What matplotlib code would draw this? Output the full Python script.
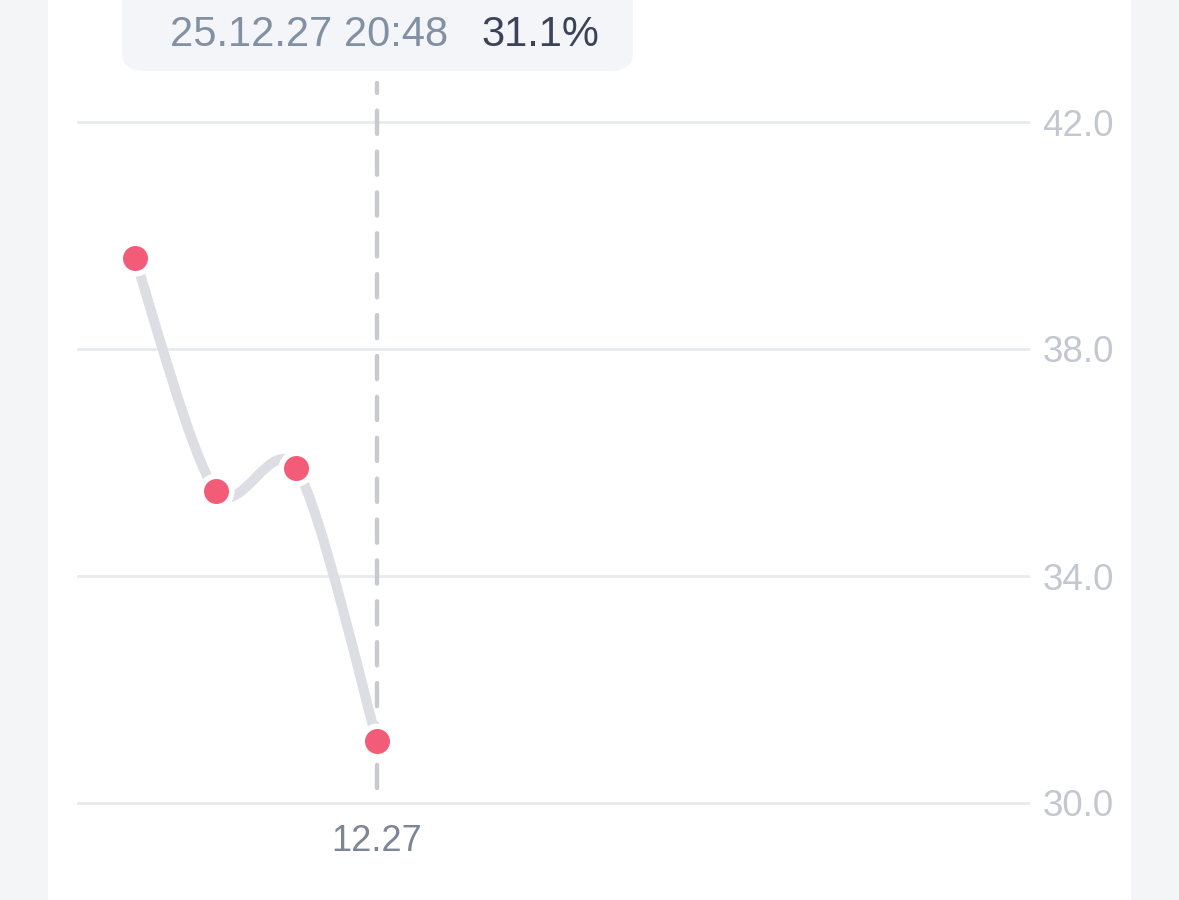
"""Single-series line with a selected-point tooltip."""

import matplotlib.pyplot as plt
from matplotlib.patches import FancyBboxPatch, PathPatch
from matplotlib.path import Path

values = [39.6, 35.5, 35.9, 31.1]
x_labels = ["", "", "", "12.27"]
y_ticks = [30.0, 34.0, 38.0, 42.0]
selected = 3
tooltip_date = "25.12.27 20:48"
tooltip_value = "31.1%"

W, H = 1179, 900
plt.rcParams["font.family"] = ["Liberation Sans", "DejaVu Sans"]

fig = plt.figure(figsize=(W / 100, H / 100), dpi=100)
fig.patch.set_facecolor("#f4f5f7")

# white card
card = FancyBboxPatch(
    (48 / W, -0.1), (1131 - 48) / W, 1.2,
    boxstyle="round,pad=0,rounding_size=0.03",
    transform=fig.transFigure, fc="white", ec="none", zorder=-10,
)
fig.patches.append(card)

ax = fig.add_axes([78 / W, 1 - 803 / H, (1028 - 78) / W, (803 - 122) / H])
ax.set_zorder(1)
ax.set_facecolor("none")
xs = list(range(len(values)))
step = 80.67
ax.set_xlim(-57 / step, (1028 - 135) / step)
ax.set_ylim(y_ticks[0], y_ticks[-1])

for s in ax.spines.values():
    s.set_visible(False)
ax.yaxis.tick_right()
ax.set_yticks(y_ticks)
ax.set_yticklabels([f"{t:.1f}" for t in y_ticks])
ax.tick_params(axis="y", length=0, pad=10.5, labelsize=26.5, labelcolor="#c3c7cf")
ax.set_xticks(xs)
ax.set_xticklabels(x_labels)
ax.tick_params(axis="x", length=0, pad=15, labelsize=26, labelcolor="#7b8697")
ax.grid(axis="y", color="#e8eaee", linewidth=2)
for gl in ax.get_ygridlines():
    gl.set_clip_on(False)
ax.set_axisbelow(True)

# smooth line through the points (cubic bezier segments)
k = 0.15
pts = list(zip(xs, values))
verts = [pts[0]]
codes = [Path.MOVETO]
for i in range(len(pts) - 1):
    p0 = pts[max(i - 1, 0)]
    p1 = pts[i]
    p2 = pts[i + 1]
    p3 = pts[min(i + 2, len(pts) - 1)]
    c1 = (p1[0] + (p2[0] - p0[0]) * k, p1[1] + (p2[1] - p0[1]) * k)
    c2 = (p2[0] - (p3[0] - p1[0]) * k, p2[1] - (p3[1] - p1[1]) * k)
    verts += [c1, c2, p2]
    codes += [Path.CURVE4] * 3
ax.add_patch(PathPatch(Path(verts, codes), fc="none", ec="#dcdee3",
                       lw=7.2, capstyle="round", zorder=2))

# crosshair at selected point
cross = ax.axvline(xs[selected], ymin=15 / 681, ymax=1 + 39 / 681,
                   color="#c8cad0", lw=3.2, clip_on=False, zorder=1)
cross.set_dashes((5.2, 4.0))
cross.set_dash_capstyle("round")

ax.plot(xs, values, "o", ms=22, mfc="#f25c78", mec="white", mew=4,
        zorder=3, clip_on=False)

# tooltip
tip = FancyBboxPatch(
    (122 / W, 1 - 71 / H), (633 - 122) / W, 0.2,
    boxstyle="round,pad=0,rounding_size=0.02",
    transform=fig.transFigure, fc="#f3f5f8", ec="none", zorder=5,
)
fig.patches.append(tip)
fig.text(170 / W, 1 - 35 / H, tooltip_date, fontsize=30, color="#8290a3",
         ha="left", va="center", zorder=6)
fig.text(481 / W, 1 - 35 / H, tooltip_value, fontsize=30, color="#3b4358",
         ha="left", va="center", zorder=6)

fig.savefig("out.png", dpi=100, facecolor=fig.get_facecolor())
